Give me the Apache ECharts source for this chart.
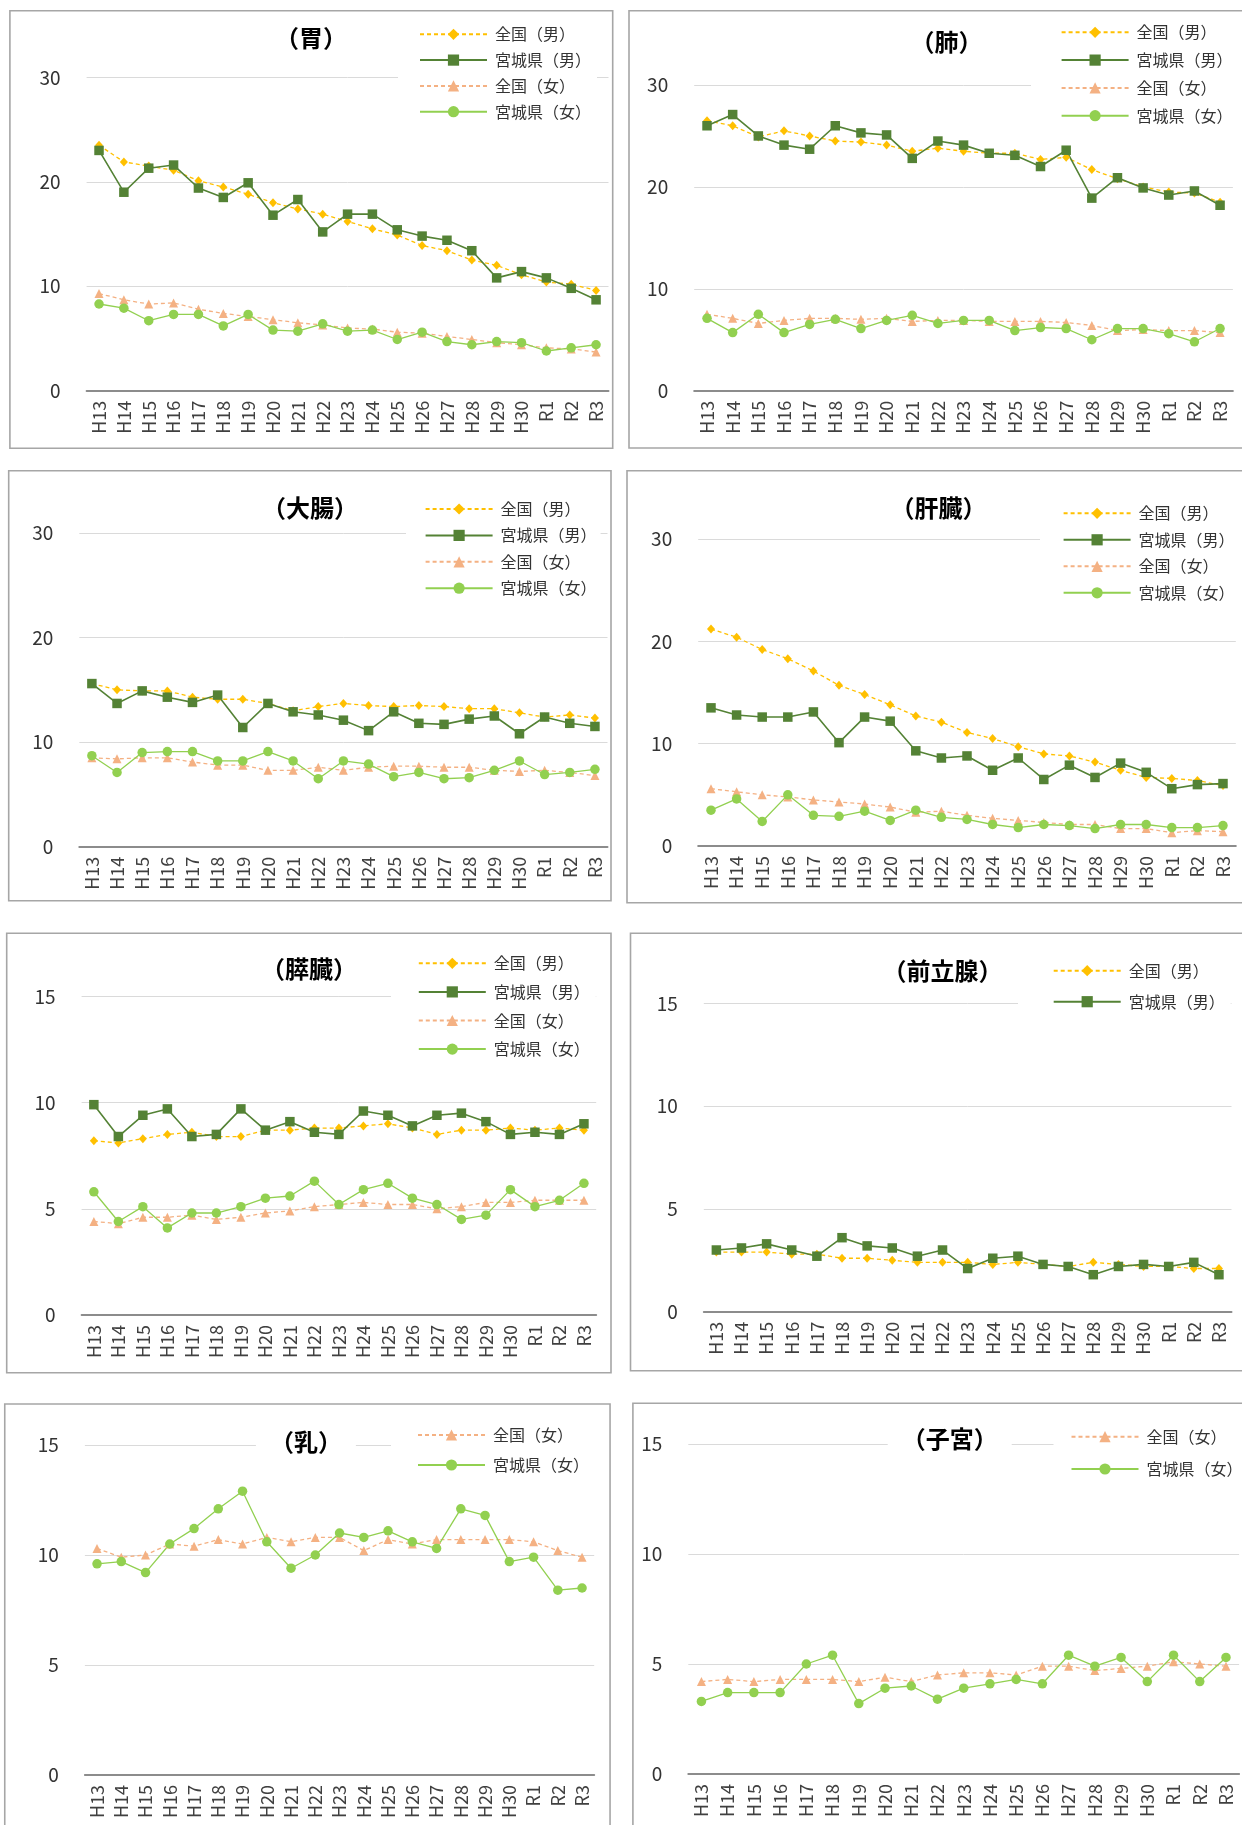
<!DOCTYPE html>
<html><head><meta charset="utf-8">
<script src="https://cdn.jsdelivr.net/npm/echarts@6/dist/echarts.min.js"></script>
<style>html,body{margin:0;padding:0;background:#fff}#c{width:1242px;height:1825px}</style>
</head><body><div id="c"></div>
<script>
const categories = ['H13','H14','H15','H16','H17','H18','H19','H20','H21','H22','H23','H24','H25','H26','H27','H28','H29','H30','R1','R2','R3'];

// 胃
const stomachNationalMale   = [23.5,21.9,21.5,21.1,20.1,19.5,18.8,18.0,17.4,16.9,16.2,15.5,14.9,13.9,13.4,12.5,12.0,11.1,10.4,10.2,9.6];
const stomachMiyagiMale     = [23.0,19.0,21.3,21.6,19.4,18.5,19.9,16.8,18.3,15.2,16.9,16.9,15.4,14.8,14.4,13.4,10.8,11.4,10.8,9.8,8.7];
const stomachNationalFemale = [9.3,8.7,8.3,8.4,7.8,7.4,7.1,6.8,6.5,6.3,6.0,5.9,5.6,5.5,5.2,4.9,4.6,4.4,4.1,4.0,3.7];
const stomachMiyagiFemale   = [8.3,7.9,6.7,7.3,7.3,6.2,7.3,5.8,5.7,6.4,5.7,5.8,4.9,5.6,4.7,4.4,4.7,4.6,3.8,4.1,4.4];
// 肺
const lungNationalMale   = [26.5,26.0,24.9,25.5,25.0,24.5,24.4,24.1,23.5,23.8,23.5,23.3,23.3,22.7,22.9,21.7,20.8,20.0,19.5,19.4,18.5];
const lungMiyagiMale     = [26.0,27.1,25.0,24.1,23.7,26.0,25.3,25.1,22.8,24.5,24.1,23.3,23.1,22.0,23.6,18.9,20.9,19.9,19.2,19.6,18.2];
const lungNationalFemale = [7.5,7.1,6.6,6.9,7.1,7.1,7.0,7.1,6.8,6.9,6.9,6.8,6.8,6.8,6.7,6.4,5.9,6.0,5.9,5.9,5.7];
const lungMiyagiFemale   = [7.1,5.7,7.5,5.7,6.5,7.0,6.1,6.9,7.4,6.6,6.9,6.9,5.9,6.2,6.1,5.0,6.1,6.1,5.6,4.8,6.1];
// 大腸
const colonNationalMale   = [15.6,15.0,14.9,14.9,14.3,14.1,14.1,13.7,13.0,13.4,13.7,13.5,13.4,13.5,13.4,13.2,13.2,12.8,12.4,12.6,12.3];
const colonMiyagiMale     = [15.6,13.7,14.9,14.3,13.8,14.5,11.4,13.7,12.9,12.6,12.1,11.1,12.9,11.8,11.7,12.2,12.5,10.8,12.4,11.8,11.5];
const colonNationalFemale = [8.5,8.4,8.5,8.5,8.1,7.8,7.8,7.3,7.3,7.6,7.3,7.6,7.7,7.7,7.6,7.6,7.3,7.2,7.3,7.1,6.8];
const colonMiyagiFemale   = [8.7,7.1,9.0,9.1,9.1,8.2,8.2,9.1,8.2,6.5,8.2,7.9,6.7,7.1,6.5,6.6,7.3,8.2,6.9,7.1,7.4];
// 肝臓
const liverNationalMale   = [21.2,20.4,19.2,18.3,17.1,15.7,14.8,13.8,12.7,12.1,11.1,10.5,9.7,9.0,8.8,8.2,7.4,6.7,6.6,6.4,5.9];
const liverMiyagiMale     = [13.5,12.8,12.6,12.6,13.1,10.1,12.6,12.2,9.3,8.6,8.8,7.4,8.6,6.5,7.9,6.7,8.1,7.2,5.6,6.0,6.1];
const liverNationalFemale = [5.6,5.3,5.0,4.8,4.5,4.3,4.1,3.8,3.3,3.4,3.0,2.7,2.5,2.3,2.1,2.1,1.7,1.7,1.3,1.5,1.4];
const liverMiyagiFemale   = [3.5,4.6,2.4,5.0,3.0,2.9,3.4,2.5,3.5,2.8,2.6,2.1,1.8,2.1,2.0,1.7,2.1,2.1,1.8,1.8,2.0];
// 膵臓
const pancreasNationalMale   = [8.2,8.1,8.3,8.5,8.6,8.4,8.4,8.7,8.7,8.8,8.8,8.9,9.0,8.8,8.5,8.7,8.7,8.8,8.7,8.8,8.7];
const pancreasMiyagiMale     = [9.9,8.4,9.4,9.7,8.4,8.5,9.7,8.7,9.1,8.6,8.5,9.6,9.4,8.9,9.4,9.5,9.1,8.5,8.6,8.5,9.0];
const pancreasNationalFemale = [4.4,4.3,4.6,4.6,4.7,4.5,4.6,4.8,4.9,5.1,5.2,5.3,5.2,5.2,5.0,5.1,5.3,5.3,5.4,5.4,5.4];
const pancreasMiyagiFemale   = [5.8,4.4,5.1,4.1,4.8,4.8,5.1,5.5,5.6,6.3,5.2,5.9,6.2,5.5,5.2,4.5,4.7,5.9,5.1,5.4,6.2];
// 前立腺
const prostateNationalMale = [2.9,2.9,2.9,2.8,2.8,2.6,2.6,2.5,2.4,2.4,2.4,2.3,2.4,2.3,2.2,2.4,2.3,2.2,2.2,2.1,2.1];
const prostateMiyagiMale   = [3.0,3.1,3.3,3.0,2.7,3.6,3.2,3.1,2.7,3.0,2.1,2.6,2.7,2.3,2.2,1.8,2.2,2.3,2.2,2.4,1.8];
// 乳
const breastNationalFemale = [10.3,9.9,10.0,10.5,10.4,10.7,10.5,10.8,10.6,10.8,10.8,10.2,10.7,10.5,10.7,10.7,10.7,10.7,10.6,10.2,9.9];
const breastMiyagiFemale   = [9.6,9.7,9.2,10.5,11.2,12.1,12.9,10.6,9.4,10.0,11.0,10.8,11.1,10.6,10.3,12.1,11.8,9.7,9.9,8.4,8.5];
// 子宮
const uterusNationalFemale = [4.2,4.3,4.2,4.3,4.3,4.3,4.2,4.4,4.2,4.5,4.6,4.6,4.5,4.9,4.9,4.7,4.8,4.9,5.1,5.0,4.9];
const uterusMiyagiFemale   = [3.3,3.7,3.7,3.7,5.0,5.4,3.2,3.9,4.0,3.4,3.9,4.1,4.3,4.1,5.4,4.9,5.3,4.2,5.4,4.2,5.3];

const FONT = '"Noto Sans CJK JP","Noto Sans",sans-serif';
const STYLE = {
  natM:  {name:'全国（男）',   color:'#FFC000', symbol:'diamond',  size:[8,9], type:[4,3],   width:1.3},
  prefM: {name:'宮城県（男）', color:'#548235', symbol:'rect',     size:9.5,   type:'solid', width:1.6},
  natF:  {name:'全国（女）',   color:'#F4B183', symbol:'triangle', size:9,     type:[4,3],   width:1.3},
  prefF: {name:'宮城県（女）', color:'#92D050', symbol:'circle',   size:9.5,   type:'solid', width:1.3}
};

const panels = [
  {title:'（胃）', max:30, interval:10,
   series:[['natM',stomachNationalMale],['prefM',stomachMiyagiMale],['natF',stomachNationalFemale],['prefF',stomachMiyagiFemale]],
   grid:{left:86.6, top:77.3, width:521.9, height:313.4}, box:[9.9,10.7,602.8,437.6], t:[311,38.3],
   lg:{left:398, top:20.3, gap:7.8, pad:[5,6,5,21]}},
  {title:'（肺）', max:30, interval:10,
   series:[['natM',lungNationalMale],['prefM',lungMiyagiMale],['natF',lungNationalFemale],['prefF',lungMiyagiFemale]],
   grid:{left:694.2, top:85, width:538.7, height:305.7}, box:[629,10.7,630,437.3], t:[946.5,41.7],
   lg:{left:1031, top:18.3, gap:9.8, pad:[5,6,5,29.6]}},
  {title:'（大腸）', max:30, interval:10,
   series:[['natM',colonNationalMale],['prefM',colonMiyagiMale],['natF',colonNationalFemale],['prefF',colonMiyagiFemale]],
   grid:{left:79.3, top:533, width:528.2, height:313.7}, box:[8.7,470.7,602.3,430], t:[310,508],
   lg:{left:406, top:495, gap:8.4, pad:[5,4,5,18.6]}},
  {title:'（肝臓）', max:30, interval:10,
   series:[['natM',liverNationalMale],['prefM',liverMiyagiMale],['natF',liverNationalFemale],['prefF',liverMiyagiFemale]],
   grid:{left:698.2, top:539, width:537.6, height:307}, box:[627,470.7,630,432], t:[938.6,507.7],
   lg:{left:1040, top:499.3, gap:8.5, pad:[5,6,5,22.6]}},
  {title:'（膵臓）', max:15, interval:5,
   series:[['natM',pancreasNationalMale],['prefM',pancreasMiyagiMale],['natF',pancreasNationalFemale],['prefF',pancreasMiyagiFemale]],
   grid:{left:81.6, top:996.3, width:514.6, height:318.7}, box:[6.7,933.3,604.3,439.4], t:[309,969.3],
   lg:{left:391, top:949.3, gap:10.6, pad:[5,6,5,26.8]}},
  {title:'（前立腺）', max:15, interval:5,
   series:[['natM',prostateNationalMale],['prefM',prostateMiyagiMale]],
   grid:{left:703.8, top:1003.3, width:527.7, height:308.4}, box:[630.5,933.3,630,437.4], t:[942.6,970.7],
   lg:{left:1018, top:956.7, gap:13, pad:[5,6,5,34.7]}},
  {title:'（乳）', max:15, interval:5,
   series:[['natF',breastNationalFemale],['prefF',breastMiyagiFemale]],
   grid:{left:84.9, top:1445, width:509.3, height:330}, box:[4.75,1404,605.3,440], t:[305.9,1441.7],
   lg:{left:391, top:1421, gap:12, pad:[5,6,5,26]}},
  {title:'（子宮）', max:15, interval:5,
   series:[['natF',uterusNationalFemale],['prefF',uterusMiyagiFemale]],
   grid:{left:688.3, top:1444, width:550.8, height:330}, box:[632.9,1403.3,630,440], t:[949.7,1439.3],
   lg:{left:1053.5, top:1422.7, gap:14.3, pad:[5,6,5,17]}}
];

const option = {animation:false, grid:[], xAxis:[], yAxis:[], series:[], legend:[], graphic:[]};
panels.forEach((p, i) => {
  option.graphic.push({type:'rect', silent:true, z:0,
    shape:{x:p.box[0], y:p.box[1], width:p.box[2], height:p.box[3]},
    style:{fill:'none', stroke:'#a6a6a6', lineWidth:1.6}});
  option.graphic.push({type:'text', silent:true, z:100, x:p.t[0], y:p.t[1],
    style:{text:p.title, font:'bold 24px ' + FONT, fill:'#000', align:'center', verticalAlign:'middle',
      backgroundColor:'#fff', padding:[2,14]}});
  option.grid.push({left:p.grid.left, top:p.grid.top, width:p.grid.width, height:p.grid.height, containLabel:false});
  option.xAxis.push({type:'category', gridIndex:i, data:categories, boundaryGap:true,
    axisTick:{show:false}, axisLine:{lineStyle:{color:'#8c8c8c', width:2}},
    axisLabel:{rotate:90, interval:0, margin:10, fontSize:18, color:'#404040', fontFamily:FONT}});
  option.yAxis.push({type:'value', gridIndex:i, min:0, max:p.max, interval:p.interval,
    axisLine:{show:false}, axisTick:{show:false},
    splitLine:{lineStyle:{color:'#dadada', width:1}},
    axisLabel:{margin:26, fontSize:19, color:'#333', fontFamily:FONT}});
  const names = [];
  p.series.forEach(([k, data]) => {
    const s = STYLE[k];
    names.push(s.name);
    option.series.push({type:'line', name:s.name, xAxisIndex:i, yAxisIndex:i, data:data,
      symbol:s.symbol, symbolSize:s.size, showSymbol:true,
      itemStyle:{color:s.color}, lineStyle:{color:s.color, width:s.width, type:s.type},
      emphasis:{disabled:true}});
  });
  option.legend.push({data:names, orient:'vertical', left:p.lg.left, top:p.lg.top,
    itemGap:p.lg.gap, itemWidth:67, itemHeight:14, padding:p.lg.pad, backgroundColor:'#fff',
    selectedMode:false, z:50,
    textStyle:{fontSize:16, lineHeight:18, color:'#333', fontFamily:FONT, padding:[0,0,0,3]}});
});

const chart = echarts.init(document.getElementById('c'), null, {renderer:'canvas'});
chart.setOption(option);
</script>
</body></html>
